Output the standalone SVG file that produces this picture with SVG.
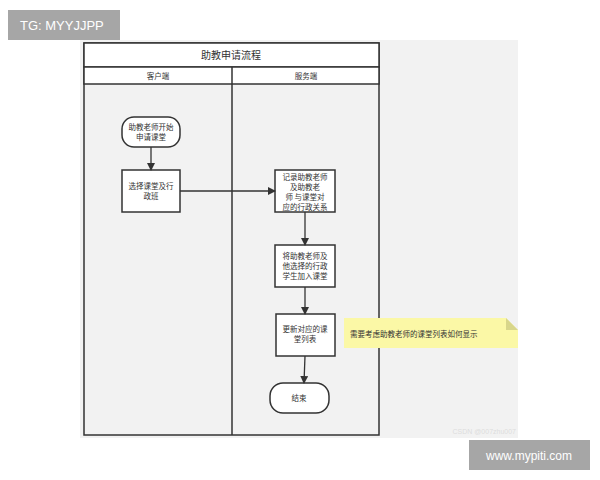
<svg xmlns="http://www.w3.org/2000/svg" width="600" height="480" viewBox="0 0 600 480">
<defs>
<style>
.b{fill:#fff;stroke:#333;stroke-width:1.5}
.t{font-family:"Noto Sans CJK SC","Liberation Sans",sans-serif;font-size:7.5px;fill:#333;text-anchor:middle}
.l{stroke:#333;stroke-width:1.3;fill:none}
</style>
<marker id="a" markerWidth="8" markerHeight="8" refX="7" refY="4" orient="auto" markerUnits="userSpaceOnUse"><path d="M0,0L8,4L0,8z" fill="#333"/></marker>
</defs>
<rect width="600" height="480" fill="#fff"/>
<rect x="80" y="40" width="438" height="398" fill="#f2f2f2"/>
<g id="pool">
<rect x="84" y="43" width="295" height="392" fill="#f2f2f2" stroke="#333" stroke-width="1.5"/>
<rect x="84" y="43" width="295" height="24" class="b"/>
<rect x="84" y="67" width="295" height="17" class="b"/>
<line x1="232" y1="67" x2="232" y2="435" stroke="#333" stroke-width="1.5"/>
<text x="231" y="59" class="t" font-size="10" style="font-size:10px">助教申请流程</text>
<text x="158" y="79" class="t">客户端</text>
<text x="306" y="79" class="t">服务端</text>
</g>
<g id="start"><rect x="122" y="117" width="58" height="30" rx="12" class="b"/><text x="151" y="130" class="t">助教老师开始</text><text x="151" y="140" class="t">申请课堂</text></g>
<g id="select"><rect x="122" y="170" width="58" height="42" class="b"/><text x="151" y="189" class="t">选择课堂及行</text><text x="151" y="199" class="t">政班</text></g>
<g id="record"><rect x="275" y="170" width="60" height="42" class="b"/><text x="305" y="180" class="t">记录助教老师</text><text x="305" y="190" class="t">及助教老</text><text x="305" y="200" class="t">师 与课堂对</text><text x="305" y="210" class="t">应的行政关系</text></g>
<g id="add"><rect x="275" y="245" width="60" height="42" class="b"/><text x="305" y="259" class="t">将助教老师及</text><text x="305" y="269" class="t">他选择的行政</text><text x="305" y="279" class="t">学生加入课堂</text></g>
<g id="update"><rect x="276" y="314" width="59" height="42" class="b"/><text x="305" y="332" class="t">更新对应的课</text><text x="305" y="342" class="t">堂列表</text></g>
<g id="end"><rect x="270" y="383" width="59" height="30" rx="13" class="b"/><text x="299" y="401" class="t">结束</text></g>
<g id="note"><path d="M344,318H506L518,330V348H344Z" fill="#fbf8a6"/><path d="M506,318L518,330H506Z" fill="#d8d68a"/><text x="350" y="337" class="t" style="text-anchor:start">需要考虑助教老师的课堂列表如何显示</text></g>
<g id="connectors">
<line x1="151" y1="147" x2="151" y2="170" class="l" marker-end="url(#a)"/>
<line x1="180" y1="191" x2="275" y2="191" class="l" marker-end="url(#a)"/>
<line x1="305" y1="212" x2="305" y2="245" class="l" marker-end="url(#a)"/>
<line x1="305" y1="287" x2="305" y2="314" class="l" marker-end="url(#a)"/>
<line x1="305" y1="356" x2="304" y2="383" class="l" marker-end="url(#a)"/>
</g>
<text x="516" y="434" font-family="Liberation Sans,sans-serif" font-size="7" fill="#ddd" text-anchor="end">CSDN @007zhu007</text>
<rect x="8" y="10" width="112" height="30" fill="#a6a6a6"/>
<text x="20" y="30" font-family="Liberation Sans,sans-serif" font-size="13" fill="#fff">TG: MYYJJPP</text>
<rect x="469" y="440" width="121" height="30" fill="#a6a6a6"/>
<text x="529" y="460" font-family="Liberation Sans,sans-serif" font-size="12" fill="#fff" text-anchor="middle">www.mypiti.com</text>
</svg>
